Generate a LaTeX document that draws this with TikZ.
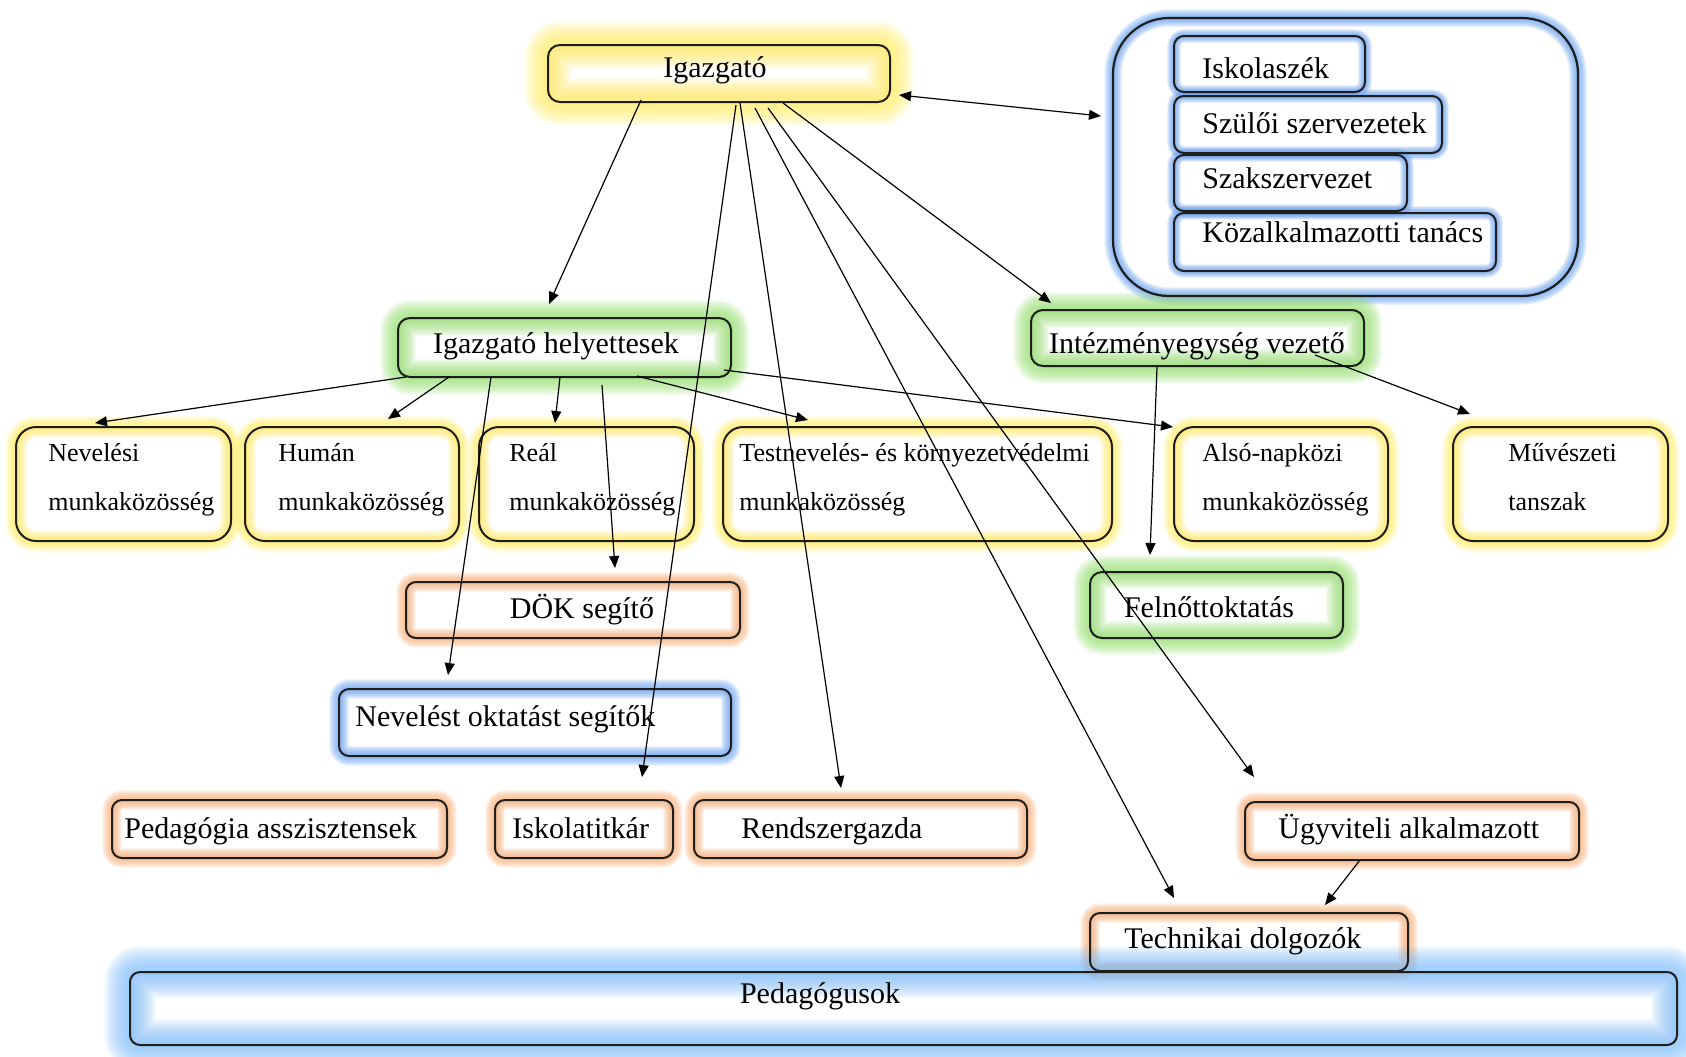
\documentclass[tikz,border=0pt]{standalone}
\usepackage{fontspec}
\setmainfont{Liberation Serif}
\usetikzlibrary{fit,arrows.meta}
\pgfdeclarelayer{fills}
\pgfdeclarelayer{glows}
\pgfsetlayers{fills,glows,main}
\definecolor{gY}{RGB}{255,236,100}
\definecolor{gG}{RGB}{150,222,112}
\definecolor{gO}{RGB}{247,175,120}
\definecolor{gB}{RGB}{110,165,240}
\definecolor{gLB}{RGB}{130,190,250}
\definecolor{bord}{RGB}{30,30,30}
\tikzset{
  txt/.style={inner sep=0pt, font=\fontsize{15}{18}\selectfont},
  stxt/.style={inner sep=0pt, font=\fontsize{13}{15}\selectfont},
  arr/.style={-{Triangle[length=6pt,width=5pt]}, line width=0.6pt, black},
  darr/.style={{Triangle[length=6pt,width=5pt]}-{Triangle[length=6pt,width=5pt]}, line width=0.6pt, black},
}
% #1 name, #2 corner, #3 corner, #4 glow colour, #5 glow extent (pt), #6 radius, #7 border width
\newcommand\gbox[7]{%
  \begin{pgfonlayer}{fills}
    \fill[white, rounded corners=#6] (#2) rectangle (#3);
  \end{pgfonlayer}
  \begin{pgfonlayer}{glows}
    \foreach \k in {1,...,18}{
      \pgfmathsetmacro\lw{\k*#5/9}
      \draw[#4, opacity=0.078, line width=\lw pt, rounded corners=#6] (#2) rectangle (#3);
    }
  \end{pgfonlayer}
  \node[fit={(#2) (#3)}, inner sep=0pt, outer sep=0pt, draw=bord, line width=#7, rounded corners=#6] (#1) {};
}
\begin{document}
\begin{tikzpicture}[x=0.5pt, y=-0.5pt]
\useasboundingbox (0,0) rectangle (1686,1056);

% boxes
\gbox{igz}{548,45}{890,102}{gY}{12}{6pt}{1pt}
\gbox{cont}{1113,18}{1578,296}{gB}{4.5}{28pt}{1.1pt}
\gbox{isk}{1174,36}{1365,92}{gB}{3.5}{5pt}{1pt}
\gbox{szu}{1174,96}{1442,153}{gB}{3.5}{5pt}{1pt}
\gbox{szak}{1174,155}{1407,211}{gB}{3.5}{5pt}{1pt}
\gbox{koz}{1174,213}{1496,271}{gB}{3.5}{5pt}{1pt}
\gbox{hel}{398,318}{731,377}{gG}{9}{6pt}{1pt}
\gbox{int}{1031,310}{1364,366}{gG}{9}{6pt}{1pt}
\gbox{nev}{16,427}{231,541}{gY}{5.5}{10pt}{1pt}
\gbox{hum}{245,427}{459,541}{gY}{5.5}{10pt}{1pt}
\gbox{real}{479,427}{694,541}{gY}{5.5}{10pt}{1pt}
\gbox{test}{723,427}{1112,541}{gY}{5.5}{10pt}{1pt}
\gbox{also}{1174,427}{1388,541}{gY}{5.5}{10pt}{1pt}
\gbox{muv}{1453,427}{1668,541}{gY}{5.5}{10pt}{1pt}
\gbox{dok}{406,582}{740,638}{gO}{5}{5pt}{1pt}
\gbox{fel}{1090,572}{1343,638}{gG}{8.5}{6pt}{1pt}
\gbox{nos}{339,689}{731,756}{gB}{5}{5pt}{1pt}
\gbox{ped}{112,800}{447,858}{gO}{5}{5pt}{1pt}
\gbox{iskt}{495,800}{673,858}{gO}{5}{5pt}{1pt}
\gbox{rend}{694,800}{1027,858}{gO}{5}{5pt}{1pt}
\gbox{ugy}{1245,802}{1579,860}{gO}{5}{5pt}{1pt}
\gbox{tech}{1090,913}{1408,971}{gO}{5}{5pt}{1pt}
\gbox{pedg}{130,972}{1677,1045}{gLB}{13}{5pt}{1pt}

% texts
\node[txt, anchor=base] (t-igz) at (715,77) {Igazgató};
\node[txt, anchor=base west] (t-isk) at (1202,78) {Iskolaszék};
\node[txt, anchor=base west] (t-szu) at (1202,133) {Szülői szervezetek};
\node[txt, anchor=base west] (t-szak) at (1202,188) {Szakszervezet};
\node[txt, anchor=base west] (t-koz) at (1202,242) {Közalkalmazotti tanács};
\node[txt, anchor=base] (t-hel) at (556,353) {Igazgató helyettesek};
\node[txt, anchor=base] (t-int) at (1197,353) {Intézményegység vezető};
\node[stxt, anchor=base west] (t-nev1) at (48,461) {Nevelési};
\node[stxt, anchor=base west] (t-nev2) at (48,510) {munkaközösség};
\node[stxt, anchor=base west] (t-hum1) at (278,461) {Humán};
\node[stxt, anchor=base west] (t-hum2) at (278,510) {munkaközösség};
\node[stxt, anchor=base west] (t-real1) at (509,461) {Reál};
\node[stxt, anchor=base west] (t-real2) at (509,510) {munkaközösség};
\node[stxt, anchor=base west] (t-test1) at (739,461) {Testnevelés- és környezetvédelmi};
\node[stxt, anchor=base west] (t-test2) at (739,510) {munkaközösség};
\node[stxt, anchor=base west] (t-also1) at (1202,461) {Alsó-napközi};
\node[stxt, anchor=base west] (t-also2) at (1202,510) {munkaközösség};
\node[stxt, anchor=base west] (t-muv1) at (1508,461) {Művészeti};
\node[stxt, anchor=base west] (t-muv2) at (1508,510) {tanszak};
\node[txt, anchor=base] (t-dok) at (582,618) {DÖK segítő};
\node[txt, anchor=base] (t-fel) at (1209,617) {Felnőttoktatás};
\node[txt, anchor=base west] (t-nos) at (355,726) {Nevelést oktatást segítők};
\node[txt, anchor=base west] (t-ped) at (124,838) {Pedagógia asszisztensek};
\node[txt, anchor=base west] (t-iskt) at (512,838) {Iskolatitkár};
\node[txt, anchor=base west] (t-rend) at (741,838) {Rendszergazda};
\node[txt, anchor=base west] (t-ugy) at (1278,838) {Ügyviteli alkalmazott};
\node[txt, anchor=base west] (t-tech) at (1124,948) {Technikai dolgozók};
\node[txt, anchor=base] (t-pedg) at (820,1003) {Pedagógusok};

% connectors
\draw[arr] ([shift={(93,55)}]igz.north west) -- ([shift={(151,-14)}]hel.north west);
\draw[arr] ([shift={(188,60)}]igz.north west) -- ([shift={(147,-23)}]iskt.north west);
\draw[arr] ([shift={(192,58)}]igz.north west) -- ([shift={(147,-12)}]rend.north west);
\draw[arr] ([shift={(207,63)}]igz.north west) -- ([shift={(84,-15)}]tech.north west);
\draw[arr] ([shift={(220,63)}]igz.north west) -- ([shift={(9,-25)}]ugy.north west);
\draw[arr] ([shift={(235,58)}]igz.north west) -- ([shift={(20,-7)}]int.north west);
\draw[darr] ([shift={(351,50)}]igz.north west) -- ([shift={(-12,98)}]cont.north west);
\draw[arr] ([shift={(8,59)}]hel.north west) -- ([shift={(79,-4)}]nev.north west);
\draw[arr] ([shift={(51,59)}]hel.north west) -- ([shift={(143,-8)}]hum.north west);
\draw[arr] ([shift={(93,59)}]hel.north west) -- ([shift={(109,-14)}]nos.north west);
\draw[arr] ([shift={(162,59)}]hel.north west) -- ([shift={(76,-4)}]real.north west);
\draw[arr] ([shift={(204,67)}]hel.north west) -- ([shift={(209,-14)}]dok.north west);
\draw[arr] ([shift={(239,58)}]hel.north west) -- ([shift={(85,-7)}]test.north west);
\draw[arr] ([shift={(326,52)}]hel.north west) -- ([shift={(-1,0)}]also.north west);
\draw[arr] ([shift={(126,57)}]int.north west) -- ([shift={(60,-17)}]fel.north west);
\draw[arr] ([shift={(284,45)}]int.north west) -- ([shift={(17,-13)}]muv.north west);
\draw[arr] ([shift={(115,58)}]ugy.north west) -- ([shift={(235,-8)}]tech.north west);
\end{tikzpicture}
\end{document}
